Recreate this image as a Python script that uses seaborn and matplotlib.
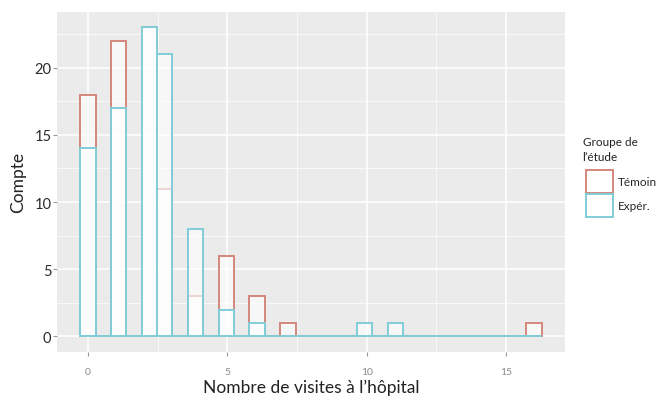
import numpy as np
import pandas as pd
import matplotlib
import matplotlib.pyplot as plt
from matplotlib.patches import Patch
from matplotlib.ticker import MultipleLocator
import seaborn as sns

# comptes par nombre de visites
visites = [0, 1, 2, 3, 4, 5, 6, 7, 10, 11, 16]
temoin = [18, 22, 23, 11, 3, 6, 3, 1, 0, 0, 1]
exper = [14, 17, 23, 21, 8, 2, 1, 0, 1, 1, 0]
groupes = ["Témoin", "Expér."]

rouge = "#d4877c"
cyan = "#80cdd8"

df = pd.concat(
    [
        pd.DataFrame({"visites": np.repeat(visites, temoin), "groupe": "Témoin"}),
        pd.DataFrame({"visites": np.repeat(visites, exper), "groupe": "Expér."}),
    ],
    ignore_index=True,
)

# 30 classes comme ggplot par défaut
lo, hi = df.visites.min(), df.visites.max()
bw = (hi - lo) / 29
edges = lo - bw / 2 + bw * np.arange(31)

sns.set_theme(style="darkgrid")
plt.rcParams["font.family"] = ["Lato", "DejaVu Sans"]

fig, ax = plt.subplots(figsize=(6.59, 4.02), dpi=100)
fig.subplots_adjust(left=0.0865, right=0.857, top=0.968, bottom=0.122)
ax.set_facecolor("#ebebeb")

for g, c in zip(groupes, [rouge, cyan]):
    sns.histplot(
        ax=ax,
        data=df[df.groupe == g],
        x="visites",
        bins=edges,
        element="bars",
        fill=True,
        facecolor=(1, 1, 1, 0.65),
        edgecolor=c,
        linewidth=1.4,
        alpha=1,
    )

ax.set_xlim(lo - bw / 2 - 0.83, hi + bw / 2 + 0.83)
ax.set_ylim(-1.15, 24.15)
ax.xaxis.set_major_locator(MultipleLocator(5))
ax.yaxis.set_major_locator(MultipleLocator(5))
ax.xaxis.set_minor_locator(MultipleLocator(2.5))
ax.yaxis.set_minor_locator(MultipleLocator(2.5))
ax.grid(which="major", color="white", linewidth=1.1)
ax.grid(which="minor", color="white", linewidth=0.5)
ax.set_axisbelow(True)
for s in ax.spines.values():
    s.set_visible(False)

ax.tick_params(axis="y", labelsize=10.5, labelcolor="#2b2b2b", length=3,
               color="#999999", width=0.8, pad=1, left=True)
ax.tick_params(axis="x", labelsize=7.5, labelcolor="#8a8a8a", length=3,
               color="#999999", width=0.8, pad=8, bottom=True)
ax.tick_params(which="minor", length=0)

ax.set_xlabel("Nombre de visites à l’hôpital", fontsize=12.5, color="#222222", labelpad=2)
ax.set_ylabel("Compte", fontsize=12.5, color="#222222", labelpad=6)

fig.text(0.884, 0.658, "Groupe de\nl’étude", fontsize=8.5, color="#222222",
         ha="left", va="top", linespacing=1.35)

handles = [
    Patch(facecolor="white", edgecolor=rouge, linewidth=1.4, label="Témoin"),
    Patch(facecolor="white", edgecolor=cyan, linewidth=1.4, label="Expér."),
]
leg = fig.legend(
    handles=handles,
    loc="upper left",
    bbox_to_anchor=(0.889, 0.575),
    frameon=False,
    fontsize=8.5,
    handlelength=2.3,
    handleheight=2.6,
    handletextpad=0.4,
    labelspacing=0.1,
    borderaxespad=0,
    borderpad=0,
)

fig.savefig("out.png", dpi=100)
